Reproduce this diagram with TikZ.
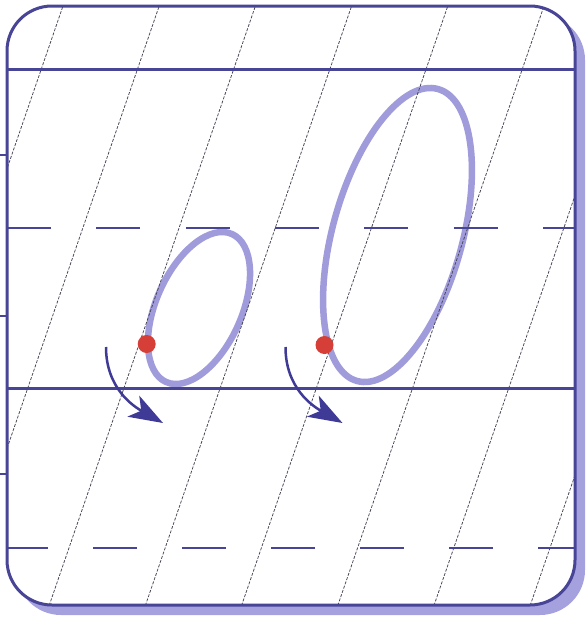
\documentclass[tikz,border=0pt]{standalone}
\usetikzlibrary{arrows.meta}
\definecolor{frameblue}{RGB}{72,68,150}
\definecolor{shadowlav}{RGB}{165,160,222}
\definecolor{ovallav}{RGB}{160,155,218}
\definecolor{guidegray}{RGB}{70,70,85}
\definecolor{dotred}{RGB}{214,62,56}
\definecolor{arrowblue}{RGB}{62,58,150}
\begin{document}
\begin{tikzpicture}[x=1pt,y=-1pt,
  frameline/.style={draw=frameblue,line width=3pt},
  rulesolid/.style={draw=frameblue,line width=3pt},
  ruledash/.style={draw=frameblue,line width=2.6pt},
  guide/.style={draw=guidegray,line width=0.75pt,dash pattern=on 3pt off 1.5pt},
  oval/.style={draw=ovallav,line width=6.5pt},
  startdot/.style={fill=dotred},
  strokearrow/.style={draw=arrowblue,line width=2.5pt,-{Stealth[length=34pt,width=24pt,inset=9pt]}}]
\useasboundingbox (0,0) rectangle (588,621);
% shadow and sheet
\fill[shadowlav,rounded corners=45pt] (16,15) rectangle (585,615);
\fill[white,rounded corners=45pt] (7,6) rectangle (575,605);
% ovals
\draw[oval, rotate around={66:(199,308)}] (199,308) ellipse [x radius=81pt, y radius=42.7pt];
\draw[oval, rotate around={74.5:(397.5,235)}] (397.5,235) ellipse [x radius=151.5pt, y radius=64.8pt];
% slanted guides
\begin{scope}
  \clip[rounded corners=45pt] (7,6) rectangle (575,605);
  \foreach \k in {0,...,7}{
    \draw[guide] ({63+96.2*\k+5.5},-10) -- ({63+96.2*\k-0.344*614},620);
  }
\end{scope}
% horizontal rules
\draw[rulesolid] (7,69) -- (575,69);
\draw[rulesolid] (7,388) -- (575,388);
\draw[ruledash,dash pattern=on 44pt off 45.3pt] (7,228) -- (575,228);
\draw[ruledash,dash pattern=on 44pt off 45pt,dash phase=3pt] (7,548) -- (575,548);
% ticks
\draw[frameline,line width=2.5pt] (0,155) -- (7,155);
\draw[frameline,line width=2.5pt] (0,316) -- (7,316);
\draw[frameline,line width=2.5pt] (0,474) -- (7,474);
% frame
\draw[frameline,rounded corners=45pt] (7,6) rectangle (575,605);
% start dots
\fill[startdot] (146.7,344) circle[radius=9pt];
\fill[startdot] (324.5,345) circle[radius=9pt];
% arrows
\coordinate (s1) at (106,347);
\coordinate (t1) at (163,423);
\coordinate (s2) at (285.5,347);
\coordinate (t2) at (342.5,423);
\draw[strokearrow] (s1) .. controls (106,388) and (133,406) .. (t1);
\draw[strokearrow] (s2) .. controls (285.5,388) and (312.5,406) .. (t2);
\end{tikzpicture}
\end{document}
